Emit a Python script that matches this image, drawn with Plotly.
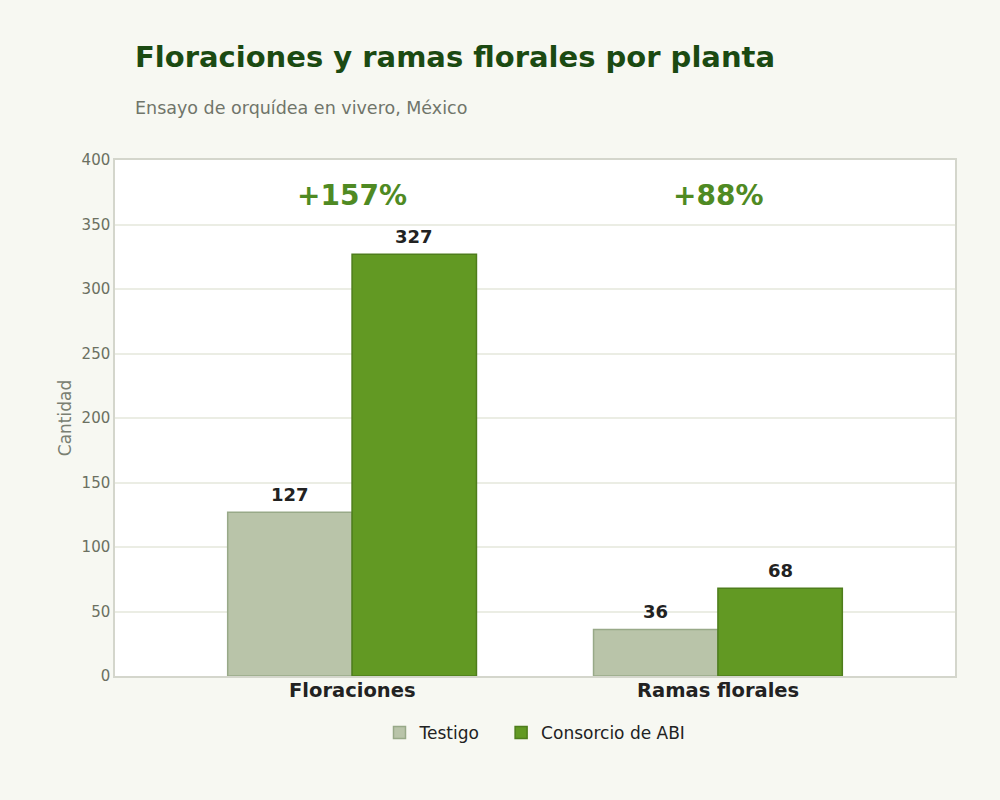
import plotly.graph_objects as go

categories = ["Floraciones", "Ramas florales"]
testigo = [127, 36]
abi = [327, 68]
increase_labels = ["+157%", "+88%"]
y_ticks = [0, 50, 100, 150, 200, 250, 300, 350, 400]

FONT = "DejaVu Sans"
W, H = 1000, 800
l, r, t, b = 115, 45, 160, 124
pw, ph = W - l - r, H - t - b
BAR_OFFSET = 0.17  # half of a bar width in category units (bargap 0.32 -> each bar 0.34)

fig = go.Figure()
fig.add_trace(go.Bar(
    name="Testigo\u00a0\u00a0\u00a0", x=categories, y=testigo,
    marker=dict(color="#b9c4a9", line=dict(color="#98a988", width=1.5)),
))
fig.add_trace(go.Bar(
    name="Consorcio de ABI", x=categories, y=abi,
    marker=dict(color="#629923", line=dict(color="#4e7d1c", width=1.5)),
))

# value labels above bars
for i, cat in enumerate(categories):
    for series, off in ((testigo, -BAR_OFFSET), (abi, BAR_OFFSET)):
        fig.add_annotation(x=i + off, y=series[i], xref="x", yref="y", text=str(series[i]),
                           showarrow=False, yanchor="middle", yshift=18,
                           font=dict(family=FONT, size=18, color="#222222", weight="bold"))
    # percentage increase
    fig.add_annotation(x=i, y=400, xref="x", yref="y", text=increase_labels[i],
                       showarrow=False, yanchor="middle", yshift=-35,
                       font=dict(family=FONT, size=28, color="#4f8a23", weight="bold"))
    # category labels
    fig.add_annotation(x=i, y=0, xref="x", yref="y", text=cat, showarrow=False,
                       yanchor="middle", yshift=-14,
                       font=dict(family=FONT, size=19.5, color="#222222", weight="bold"))

fig.update_layout(
    width=W, height=H,
    paper_bgcolor="#f7f8f2", plot_bgcolor="#ffffff",
    margin=dict(l=l, r=r, t=t, b=b),
    barmode="group", bargap=0.32, bargroupgap=0,
    font=dict(family=FONT),
    xaxis=dict(range=[-0.648, 1.648], showgrid=False, showticklabels=False,
               showline=True, linecolor="#d4d6cc", linewidth=1.5, mirror=True,
               ticks="", zeroline=False),
    yaxis=dict(range=[0, 400], tickvals=y_ticks, gridcolor="#ebede4", gridwidth=1.5,
               tickfont=dict(family=FONT, size=15, color="#6b7061"),
               title=dict(text="Cantidad", font=dict(family=FONT, size=17, color="#7a7f72"), standoff=6),
               showline=True, linecolor="#d4d6cc", linewidth=1.5, mirror=True,
               zeroline=False, ticks=""),
    legend=dict(orientation="h", x=0.5, xanchor="center", y=-(715 - 676) / ph, yanchor="top",
                font=dict(family=FONT, size=17, color="#222222"),
                bgcolor="rgba(0,0,0,0)", traceorder="normal"),
)

def px_to_paper(x, y):
    return (x - l) / pw, (H - b - y) / ph

tx, ty = px_to_paper(133, 57)
fig.add_annotation(x=tx, y=ty, xref="paper", yref="paper", xanchor="left", yanchor="middle",
                   text="Floraciones y ramas florales por planta", showarrow=False,
                   font=dict(family=FONT, size=29, color="#1b4a12", weight="bold"))
sx, sy = px_to_paper(133, 108)
fig.add_annotation(x=sx, y=sy, xref="paper", yref="paper", xanchor="left", yanchor="middle",
                   text="Ensayo de orquídea en vivero, México", showarrow=False,
                   font=dict(family=FONT, size=17.5, color="#70756a"))

fig.write_html("out.html")
